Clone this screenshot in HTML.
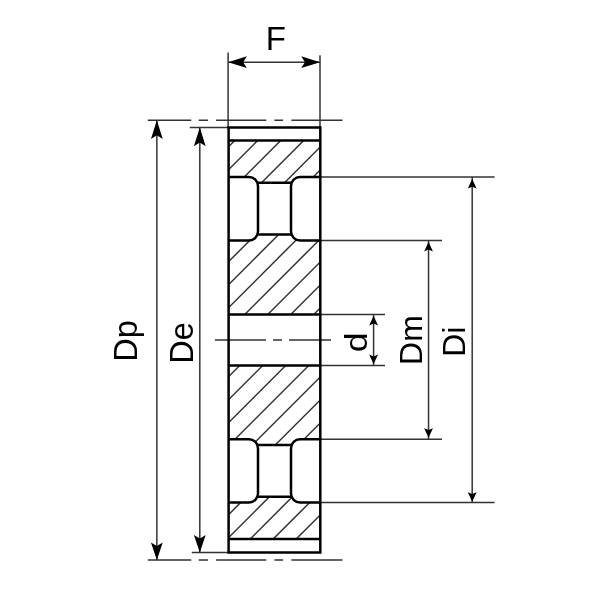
<!DOCTYPE html>
<html lang="en"><head><meta charset="utf-8"><title>Pulley dimensions</title>
<style>html,body{margin:0;padding:0;background:#fff}body{width:600px;height:600px;overflow:hidden}svg{display:block;will-change:transform}text{font-family:"Liberation Sans",Arial,Helvetica,sans-serif;fill:#000}</style></head><body>
<svg width="600" height="600" viewBox="0 0 600 600">
<rect width="600" height="600" fill="#fff"/>
<defs><clipPath id="h">
<rect x="228.6" y="140.6" width="91.70" height="398.30"/>
</clipPath></defs>
<g clip-path="url(#h)" stroke="#333" stroke-width="1.5" fill="none">
<line x1="223.60" y1="105.60" x2="325.30" y2="3.90"/>
<line x1="223.60" y1="128.60" x2="325.30" y2="26.90"/>
<line x1="223.60" y1="151.60" x2="325.30" y2="49.90"/>
<line x1="223.60" y1="174.60" x2="325.30" y2="72.90"/>
<line x1="223.60" y1="197.60" x2="325.30" y2="95.90"/>
<line x1="223.60" y1="220.60" x2="325.30" y2="118.90"/>
<line x1="223.60" y1="243.60" x2="325.30" y2="141.90"/>
<line x1="223.60" y1="266.60" x2="325.30" y2="164.90"/>
<line x1="223.60" y1="289.60" x2="325.30" y2="187.90"/>
<line x1="223.60" y1="312.60" x2="325.30" y2="210.90"/>
<line x1="223.60" y1="335.60" x2="325.30" y2="233.90"/>
<line x1="223.60" y1="358.60" x2="325.30" y2="256.90"/>
<line x1="223.60" y1="381.60" x2="325.30" y2="279.90"/>
<line x1="223.60" y1="404.60" x2="325.30" y2="302.90"/>
<line x1="223.60" y1="427.60" x2="325.30" y2="325.90"/>
<line x1="223.60" y1="450.60" x2="325.30" y2="348.90"/>
<line x1="223.60" y1="473.60" x2="325.30" y2="371.90"/>
<line x1="223.60" y1="496.60" x2="325.30" y2="394.90"/>
<line x1="223.60" y1="519.60" x2="325.30" y2="417.90"/>
<line x1="223.60" y1="542.60" x2="325.30" y2="440.90"/>
<line x1="223.60" y1="565.60" x2="325.30" y2="463.90"/>
<line x1="223.60" y1="588.60" x2="325.30" y2="486.90"/>
<line x1="223.60" y1="611.60" x2="325.30" y2="509.90"/>
<line x1="223.60" y1="634.60" x2="325.30" y2="532.90"/>
<line x1="223.60" y1="657.60" x2="325.30" y2="555.90"/>
<line x1="223.60" y1="680.60" x2="325.30" y2="578.90"/>
<line x1="223.60" y1="703.60" x2="325.30" y2="601.90"/>
<line x1="223.60" y1="726.60" x2="325.30" y2="624.90"/>
<line x1="223.60" y1="749.60" x2="325.30" y2="647.90"/>
<line x1="223.60" y1="772.60" x2="325.30" y2="670.90"/>
<line x1="223.60" y1="795.60" x2="325.30" y2="693.90"/>
<line x1="223.60" y1="818.60" x2="325.30" y2="716.90"/>
<line x1="223.60" y1="841.60" x2="325.30" y2="739.90"/>
<line x1="223.60" y1="864.60" x2="325.30" y2="762.90"/>
<line x1="223.60" y1="887.60" x2="325.30" y2="785.90"/>
<line x1="223.60" y1="910.60" x2="325.30" y2="808.90"/>
<line x1="223.60" y1="933.60" x2="325.30" y2="831.90"/>
<line x1="223.60" y1="956.60" x2="325.30" y2="854.90"/>
<line x1="223.60" y1="979.60" x2="325.30" y2="877.90"/>
<line x1="223.60" y1="1002.60" x2="325.30" y2="900.90"/>
<line x1="223.60" y1="1025.60" x2="325.30" y2="923.90"/>
<line x1="223.60" y1="1048.60" x2="325.30" y2="946.90"/>
</g>
<g fill="#fff" stroke="none">
<rect x="228.6" y="314.4" width="91.70" height="51.20"/>
<path d="M228.6 177.0H249.0A9.0 9.0 0 0 1 258.0 186.0V231.4A9.0 9.0 0 0 1 249.0 240.4H228.6Z"/>
<path d="M320.3 177.0H300.0A9.0 9.0 0 0 0 291.0 186.0V231.4A9.0 9.0 0 0 0 300.0 240.4H320.3Z"/>
<rect x="258.0" y="182.8" width="33.00" height="51.80"/>
<path d="M228.6 439.2H249.0A9.0 9.0 0 0 1 258.0 448.2V493.6A9.0 9.0 0 0 1 249.0 502.6H228.6Z"/>
<path d="M320.3 439.2H300.0A9.0 9.0 0 0 0 291.0 448.2V493.6A9.0 9.0 0 0 0 300.0 502.6H320.3Z"/>
<rect x="258.0" y="445.0" width="33.00" height="51.80"/>
</g>
<g stroke="#333" stroke-width="1.5" fill="none">
<line x1="228.1" y1="52.6" x2="228.1" y2="127.5"/>
<line x1="320.0" y1="55.3" x2="320.0" y2="127.5"/>
<line x1="228.6" y1="62.2" x2="320.3" y2="62.2"/>
<path d="M147.75 120.2H191.25M198.75 120.2H208.1M216.1 120.2H266.25M274.4 120.2H283.1M291.4 120.2H342.5"/>
<path d="M147.75 560.1H191.25M198.75 560.1H208.1M216.1 560.1H266.25M274.4 560.1H283.1M291.4 560.1H342.5"/>
<line x1="189.75" y1="127.5" x2="228.6" y2="127.5"/>
<line x1="191.8" y1="552.5" x2="228.6" y2="552.5"/>
<line x1="156.85" y1="120.2" x2="156.85" y2="560.1"/>
<line x1="199.8" y1="127.5" x2="199.8" y2="552.5"/>
<path d="M215 340.0H266M273 340.0H282M289 340.0H331"/>
<line x1="320.3" y1="177.0" x2="494.6" y2="177.0"/>
<line x1="320.3" y1="502.6" x2="494.6" y2="502.6"/>
<line x1="320.3" y1="240.4" x2="442.0" y2="240.4"/>
<line x1="320.3" y1="439.2" x2="442.0" y2="439.2"/>
<line x1="320.3" y1="314.4" x2="385" y2="314.4"/>
<line x1="320.3" y1="365.6" x2="385" y2="365.6"/>
<line x1="472.2" y1="177.0" x2="472.2" y2="502.6"/>
<line x1="428.55" y1="240.4" x2="428.55" y2="439.2"/>
<line x1="373.6" y1="314.4" x2="373.6" y2="365.6"/>
</g>
<g stroke="#000" stroke-width="2.5" fill="none" stroke-linejoin="miter">
<rect x="228.6" y="127.5" width="91.70" height="425.00"/>
<line x1="228.6" y1="140.6" x2="320.3" y2="140.6"/>
<line x1="228.6" y1="538.9" x2="320.3" y2="538.9"/>
<line x1="228.6" y1="314.4" x2="320.3" y2="314.4"/>
<line x1="228.6" y1="365.6" x2="320.3" y2="365.6"/>
<path d="M228.6 177.0H249.0A9.0 9.0 0 0 1 258.0 186.0V231.4A9.0 9.0 0 0 1 249.0 240.4H228.6"/>
<path d="M320.3 177.0H300.0A9.0 9.0 0 0 0 291.0 186.0V231.4A9.0 9.0 0 0 0 300.0 240.4H320.3"/>
<line x1="258.0" y1="182.8" x2="291.0" y2="182.8"/>
<line x1="258.0" y1="234.6" x2="291.0" y2="234.6"/>
<path d="M228.6 439.2H249.0A9.0 9.0 0 0 1 258.0 448.2V493.6A9.0 9.0 0 0 1 249.0 502.6H228.6"/>
<path d="M320.3 439.2H300.0A9.0 9.0 0 0 0 291.0 448.2V493.6A9.0 9.0 0 0 0 300.0 502.6H320.3"/>
<line x1="258.0" y1="445.0" x2="291.0" y2="445.0"/>
<line x1="258.0" y1="496.8" x2="291.0" y2="496.8"/>
</g>
<g fill="#000" stroke="none">
<path d="M228.1 62.2L246.79999999999998 56.300000000000004L243.2 62.2L246.79999999999998 68.10000000000001Z"/>
<path d="M320.0 62.2L301.3 56.300000000000004L304.90000000000003 62.2L301.3 68.10000000000001Z"/>
<path d="M156.85 120.2L150.95 138.9L156.85 135.3L162.75 138.9Z"/>
<path d="M156.85 560.1L150.95 542.5L156.85 546.1L162.75 542.5Z"/>
<path d="M199.8 127.5L193.9 146.2L199.8 142.6L205.70000000000002 146.2Z"/>
<path d="M199.8 552.5L193.9 534.9L199.8 538.5L205.70000000000002 534.9Z"/>
<path d="M472.2 179.0L467.8 188.6L472.2 186.79999999999998L476.59999999999997 188.6Z"/>
<path d="M472.2 501.8L467.8 492.2L472.2 494.0L476.59999999999997 492.2Z"/>
<path d="M428.55 241.8L424.15000000000003 251.4L428.55 249.6L432.95 251.4Z"/>
<path d="M428.55 437.8L424.15000000000003 428.2L428.55 430.0L432.95 428.2Z"/>
<path d="M373.6 315.79999999999995L369.20000000000005 325.4L373.6 323.59999999999997L378.0 325.4Z"/>
<path d="M373.6 364.20000000000005L369.20000000000005 354.6L373.6 356.40000000000003L378.0 354.6Z"/>
</g>
<text transform="translate(275.8 49.7) scale(1.0 1)" font-size="33" text-anchor="middle">F</text>
<text transform="translate(137.4 341) rotate(-90) scale(1.0 1)" font-size="32.5" text-anchor="middle">Dp</text>
<text transform="translate(192.5 343) rotate(-90) scale(1.0 1)" font-size="32.5" text-anchor="middle">De</text>
<text transform="translate(366.9 342.2) rotate(-90) scale(1.12 1)" font-size="32" text-anchor="middle">d</text>
<text transform="translate(421.8 340) rotate(-90) scale(1.0 1)" font-size="32" text-anchor="middle">Dm</text>
<text transform="translate(464.5 341.7) rotate(-90) scale(1.0 1)" font-size="32" text-anchor="middle">Di</text>
</svg></body></html>
